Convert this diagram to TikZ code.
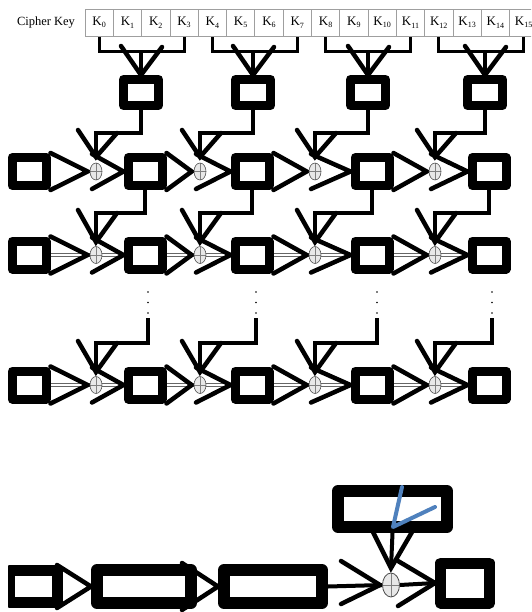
\documentclass[tikz,border=0pt]{standalone}
\usepackage{fontspec}
\setmainfont{Liberation Serif}
\usetikzlibrary{shapes.geometric,calc}
\definecolor{blu}{RGB}{79,129,189}
\pgfdeclarelayer{bg}
\pgfsetlayers{bg,main}
\tikzset{
 keycell/.style={draw=gray!75, line width=0.7pt, minimum width=28.3pt, minimum height=27pt, inner sep=0pt, font=\fontsize{13}{13}\selectfont},
 kbox/.style={draw, line width=9pt, line join=round, minimum width=35pt, minimum height=26pt, inner sep=0pt, fill=white},
 rbox/.style={draw, line width=9pt, line join=round, minimum width=34pt, minimum height=28pt, inner sep=0pt, fill=white},
 xorn/.style={ellipse, draw=black!70, line width=0.6pt, fill=gray!18, minimum width=12pt, minimum height=17pt, inner sep=0pt,
   path picture={\draw[black!50, line width=0.5pt] (path picture bounding box.north) -- (path picture bounding box.south) (path picture bounding box.west) -- (path picture bounding box.east);}},
 wire/.style={line width=3.5pt},
 thickwire/.style={line width=4pt},
 arm/.style={line width=4.5pt, line cap=round},
 shaft/.style={draw=black!60, line width=0.7pt, double=white, double distance=2.4pt},
 bluel/.style={draw=blu, line width=4pt, line cap=round, line join=round},
}
\begin{document}
\begin{tikzpicture}[x=1pt,y=-1pt]
\useasboundingbox (0,0) rectangle (531,612);
\clip (0,0) rectangle (531,612);

% ---------- cipher key ----------
\node[font=\fontsize{12.5}{13}\selectfont] (ck) at (46,23) {Cipher Key};
\foreach \i in {0,...,15} {
  \node[keycell] (c\i) at ({85+28.3*\i+14.15},22.5) {K\raisebox{-2.5pt}{\fontsize{8}{8}\selectfont\i}};
}

% key-schedule boxes
\foreach \i/\xx in {1/141,2/253,3/368,4/485} {
  \node[kbox] (k\i) at (\xx,92.5) {};
}
% brackets, stems, arrowheads
\begin{pgfonlayer}{bg}
\foreach \i/\a/\b/\xx in {1/0/3/141,2/4/7/253,3/8/11/368,4/12/15/485} {
  \coordinate (bm\i) at (\xx,52);
  \draw[line width=3pt] (c\a.south) |- (bm\i) -| (c\b.south);
  \draw[wire] (bm\i) -- (k\i.north);
  \draw[arm] (\xx-20,46) -- (k\i.north) -- (\xx+21,47);
}
\end{pgfonlayer}

% ---------- rounds ----------
\foreach \r/\yy in {1/171.5,2/255,3/385} {
  \foreach \c/\xx in {1/29,2/145,3/252,4/372,5/489} {
    \node[rbox] (b\r\c) at (\xx,\yy) {};
  }
  \foreach \c/\xx in {1/96,2/200,3/315,4/435} {
    \node[xorn] (x\r\c) at (\xx,\yy) {};
  }
}

% dots
\foreach \c/\xx in {1/148,2/256,3/377,4/492} {
  \fill (\xx,292) circle (0.9);
  \fill (\xx,302.5) circle (0.9);
  \fill (\xx,313) circle (0.9);
  \coordinate (d\c) at (\xx,318);
}

\begin{pgfonlayer}{bg}
% horizontal data path
\foreach \r in {1,2,3} {
  \foreach \c in {1,2,3,4} {
    \pgfmathtruncatemacro{\n}{\c+1}
    \draw[shaft] (b\r\c.east) -- (x\r\c.west);
    \draw[arm] (b\r\c.north east) -- ($(x\r\c.west)+(-2,0)$) -- (b\r\c.south east);
    \draw[shaft] (x\r\c.east) -- (b\r\n.west);
    \draw[arm] ($(x\r\c)+(-4,-17.5)$) -- (b\r\n.west) -- ($(x\r\c)+(-4,17.5)$);
  }
}
% round key feeds
\foreach \c/\xx in {1/96,2/200,3/315,4/435} {
  \pgfmathtruncatemacro{\n}{\c+1}
  % row 1 from key schedule
  \coordinate (h1\c) at (\xx,133);
  \coordinate (t1\c) at (\xx,157);
  \draw[wire] (k\c.south) |- (h1\c) -- (t1\c);
  \draw[arm] (\xx-18,130) -- (t1\c) -- (\xx+21,133);
  % row 2 from row 1 boxes
  \coordinate (h2\c) at (\xx,213);
  \coordinate (t2\c) at (\xx,242);
  \draw[wire] (b1\n.south) |- (h2\c) -- (t2\c);
  \draw[arm] (\xx-18,210) -- (t2\c) -- (\xx+21,213);
  % row 3 from dots
  \coordinate (h3\c) at (\xx,343);
  \coordinate (t3\c) at (\xx,372);
  \draw[wire] (d\c) |- (h3\c) -- (t3\c);
  \draw[arm] (\xx-18,341) -- (t3\c) -- (\xx+21,343);
}
\end{pgfonlayer}

% ---------- bottom detail ----------
\begin{scope}
  \clip (8,540) rectangle (100,612);
  \node[draw, line width=11pt, line join=round, minimum width=47.5pt, minimum height=32pt, inner sep=0pt, fill=white] (nA) at (33.25,586.5) {};
\end{scope}
\node[draw, line width=12pt, line join=round, minimum width=94pt, minimum height=33pt, inner sep=0pt, fill=white] (nB) at (144,586.5) {};
\node[draw, line width=12pt, line join=round, minimum width=98pt, minimum height=33pt, inner sep=0pt, fill=white] (nC) at (273,586.5) {};
\node[draw, line width=11pt, line join=round, minimum width=49pt, minimum height=40pt, inner sep=0pt, fill=white] (nD) at (465,583) {};
\node[draw, line width=12pt, line join=round, minimum width=109pt, minimum height=36pt, inner sep=0pt, fill=white] (nE) at (392.5,509) {};
\node[xorn, minimum width=17pt, minimum height=24pt, line width=0.8pt] (nx) at (391,585) {};

\begin{pgfonlayer}{bg}
  \draw[shaft] (nA.east) -- (nB.west);
  \draw[arm] (57,565) -- (nB.west) -- (57,608);
  \draw[shaft] (nB.east) -- (nC.west);
  \draw[arm] (182,563) -- (nC.west) -- (182,610);
  \coordinate (tx1) at (380,585);
  \draw[thickwire] (nC.east) -- (nx.west);
  \draw[arm] (341,561) -- (tx1) -- (341,604);
  \draw[thickwire] (nx.east) -- (nD.west);
  \draw[arm] (398,561) -- (nD.west) -- (398,606);
  \coordinate (tx2) at (391,568);
  \draw[thickwire] (nE.south) -- (tx2);
  \draw[arm] (373,532) -- (tx2) -- (412,532);
\end{pgfonlayer}

\coordinate (bl1) at (402,487);
\coordinate (bl2) at (393,527);
\coordinate (bl3) at (435,507);
\draw[bluel] (bl1) -- (bl2) -- (bl3);
\end{tikzpicture}
\end{document}
